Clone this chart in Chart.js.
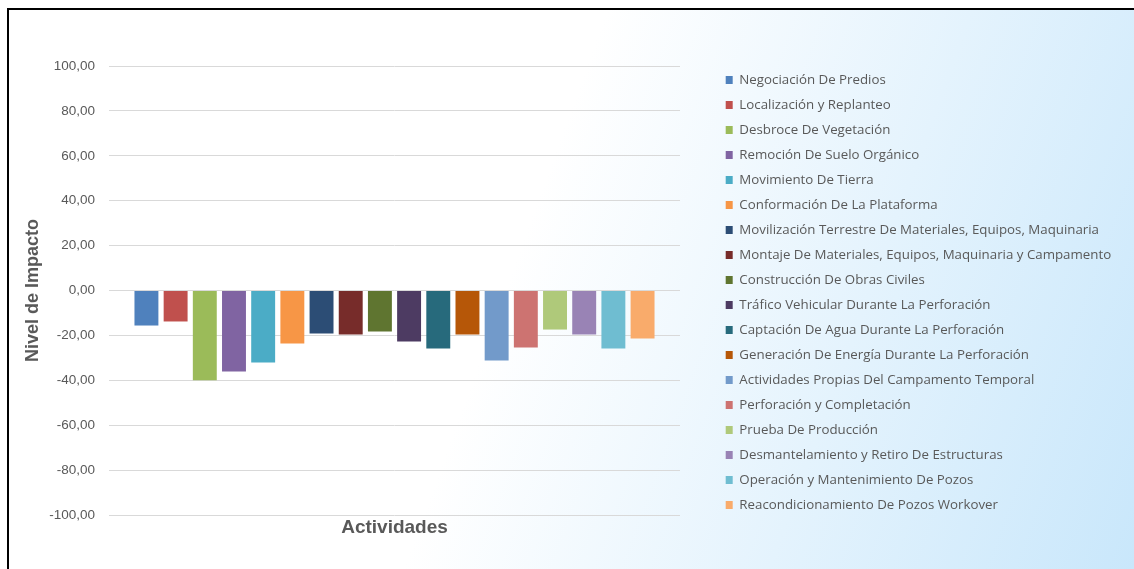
<!DOCTYPE html>
<html>
<head>
<meta charset="utf-8">
<title>Nivel de Impacto por Actividades</title>
<script src="https://cdn.jsdelivr.net/npm/chart.js@4"></script>
<style>
  html, body { margin: 0; padding: 0; overflow: hidden; background: #fff; }
  #frame {
    position: absolute; left: 7px; top: 8px; width: 1125px; height: 559px;
    border-top: 2px solid #000; border-left: 2px solid #000;
    background: linear-gradient(110deg, #ffffff 45%, #c9e7fb 100%);
  }
  #wrap { position: absolute; left: 0; top: 0; width: 1134px; height: 569px; }
</style>
</head>
<body>
<div id="frame"></div>
<div id="wrap"><canvas id="impactChart"></canvas></div>
<script>
// Nivel de impacto por actividad (one bar per activity)
const activities = [
  'Negociación De Predios',
  'Localización y Replanteo',
  'Desbroce De Vegetación',
  'Remoción De Suelo Orgánico',
  'Movimiento De Tierra',
  'Conformación De La Plataforma',
  'Movilización Terrestre De Materiales, Equipos, Maquinaria',
  'Montaje De Materiales, Equipos, Maquinaria y Campamento',
  'Construcción De Obras Civiles',
  'Tráfico Vehicular Durante La Perforación',
  'Captación De Agua Durante La Perforación',
  'Generación De Energía Durante La Perforación',
  'Actividades Propias Del Campamento Temporal',
  'Perforación y Completación',
  'Prueba De Producción',
  'Desmantelamiento y Retiro De Estructuras',
  'Operación y Mantenimiento De Pozos',
  'Reacondicionamiento De Pozos Workover'
];

const impact = [
  -15.6, -13.8, -40.0, -36.1, -32.1, -23.6, -19.2, -19.6, -18.3,
  -22.7, -25.8, -19.6, -31.2, -25.4, -17.4, -19.6, -25.8, -21.4
];

const colors = [
  '#4F81BD', '#C0504D', '#9BBB59', '#8064A2', '#4BACC6', '#F79646',
  '#2C4D75', '#772C2A', '#5F7530', '#4D3B62', '#276A7C', '#B65708',
  '#729ACA', '#CD7371', '#AFC97A', '#9983B5', '#6FBDD1', '#F9AB6B'
];

const categories = ['Actividades'];
const yMin = -100;
const yMax = 100;
const yStep = 20;

const grey = '#595959';
const legendFont = { family: 'Open Sans', size: 13.3 };
const legendPad = 11.7;

// legend width as Chart.js computes it, so the legend boxes line up at x≈726
function legendWidth() {
  const c = document.createElement('canvas').getContext('2d');
  c.font = legendFont.size + 'px "' + legendFont.family + '"';
  const w = Math.max(...activities.map(t => c.measureText(t).width));
  return legendPad + 7 + legendFont.size / 2 + w + 10;
}
const padRight = Math.max(0, window.innerWidth - 714 - legendWidth());

const ctx = document.getElementById('impactChart');

new Chart(ctx, {
  type: 'bar',
  data: {
    labels: categories,
    datasets: activities.map((name, i) => ({
      label: name,
      data: [impact[i]],
      backgroundColor: colors[i],
      borderWidth: 0,
      categoryPercentage: 0.92,
      barPercentage: 0.82
    }))
  },
  options: {
    responsive: true,
    maintainAspectRatio: false,
    animation: false,
    layout: {
      padding: { left: 20, top: 16, right: padRight, bottom: 0 }
    },
    plugins: {
      legend: {
        position: 'right',
        align: 'center',
        maxWidth: 600,
        labels: {
          boxWidth: 7,
          boxHeight: 8,
          padding: legendPad,
          color: grey,
          font: legendFont
        }
      },
      tooltip: { enabled: false }
    },
    scales: {
      x: {
        grid: { display: false },
        border: { display: false },
        ticks: { display: false },
        title: {
          display: true,
          text: 'Actividades',
          color: grey,
          font: { family: 'Liberation Sans', size: 19, weight: 'bold' },
          padding: { top: 0, bottom: 30 }
        },
        afterFit: s => { s.height = 54; }
      },
      y: {
        min: yMin,
        max: yMax,
        grid: { color: '#d9d9d9', drawTicks: false },
        border: { display: false },
        ticks: {
          stepSize: yStep,
          padding: 14,
          color: grey,
          font: { family: 'Liberation Sans', size: 13.5 },
          callback: v => v.toFixed(2).replace('.', ',')
        },
        title: {
          display: true,
          text: 'Nivel de Impacto',
          color: grey,
          font: { family: 'Liberation Sans', size: 18, weight: 'bold' },
          padding: { top: 2, bottom: 0 }
        },
        afterFit: s => { s.width = 89; }
      },
      // empty spacer axes: space above the plot and between plot and legend
      xTop: {
        type: 'linear',
        position: 'top',
        grid: { display: false, drawTicks: false },
        border: { display: false },
        ticks: { display: false },
        afterFit: s => { s.height = 50; }
      },
      yRight: {
        type: 'linear',
        position: 'right',
        grid: { display: false, drawTicks: false },
        border: { display: false },
        ticks: { display: false },
        afterFit: s => { s.width = 34; }
      }
    }
  }
});
</script>
</body>
</html>
